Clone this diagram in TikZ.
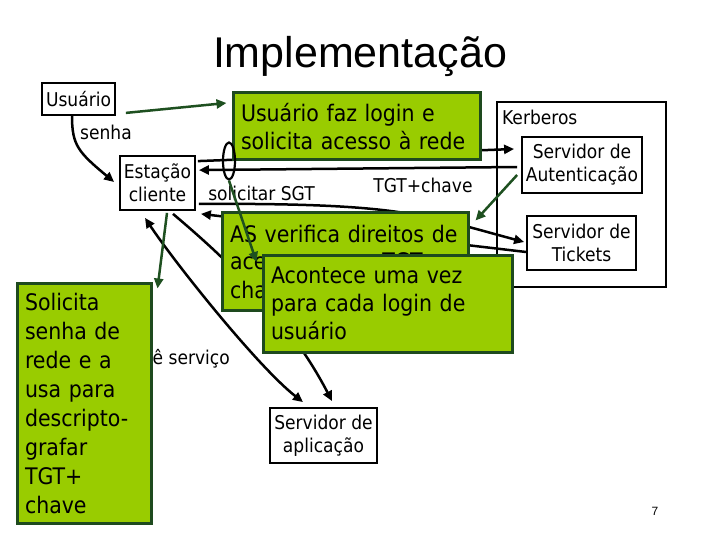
\documentclass[tikz,border=0pt]{standalone}
\usepackage{fontspec}
\setmainfont{DejaVu Sans Condensed}
\newfontfamily\titlefont{Liberation Sans}
\usetikzlibrary{arrows.meta,shapes.geometric,calc,backgrounds}
\definecolor{gfill}{HTML}{99CC00}
\definecolor{gborder}{HTML}{1E4A1E}
\definecolor{garrow}{HTML}{1E5020}
\tikzset{
 wbox/.style={draw=black,line width=1.8pt,fill=white,align=center,inner sep=0pt,font=\fontsize{19}{23}\selectfont},
 gbox/.style={draw=gborder,line width=3pt,fill=gfill,align=left,inner xsep=8pt,inner ysep=0pt,font=\fontsize{22.8}{28}\selectfont},
 lbl/.style={inner sep=0pt,font=\fontsize{19}{23}\selectfont},
 tip/.style={-{Triangle[length=10pt,width=9pt]}},
 blk/.style={draw=black,line width=2.5pt,tip},
 grn/.style={draw=garrow,line width=2.5pt,tip},
}
\begin{document}
\begin{tikzpicture}[x=1pt,y=-1pt]
\useasboundingbox (0,0) rectangle (720,540);
% title
\node[anchor=base,font=\titlefont\fontsize{43}{48}\selectfont,inner sep=0pt] (title) at (360,68) {Implementação};
% Kerberos frame
\node[draw=black,line width=1.8pt,minimum width=169,minimum height=185,inner sep=0pt] (kerb) at (581.5,194.5) {};
\node[lbl,anchor=base west] (kerbl) at (502,125) {Kerberos};
% white boxes
\node[wbox,minimum width=73,minimum height=32] (usr) at (78.5,99) {Usuário};
\node[wbox,minimum width=75,minimum height=54] (est) at (157.5,183) {Estação\\cliente};
\node[wbox,minimum width=120,minimum height=56] (sa) at (582,165) {Servidor de\\Autenticação};
\node[wbox,minimum width=109,minimum height=54] (st) at (581.5,243) {Servidor de\\Tickets};
\node[wbox,minimum width=107,minimum height=55] (app) at (323.5,435.5) {Servidor de\\aplicação};
% green boxes
\node[gbox,text width=231,minimum height=67] (g1) at (356.5,126.5) {\mbox{Usuário faz login e}\\\mbox{solicita acesso à rede}};
\node[gbox,text width=230,minimum height=97] (as) at (345,261.5) {\mbox{AS verifica direitos de}\\\mbox{acesso e gera TGT+}\\\mbox{chave}};
\node[gbox,text width=233,minimum height=97] (ac) at (387.5,303.5) {\mbox{Acontece uma vez}\\\mbox{para cada login de}\\\mbox{usuário}};
\node[gbox,text width=118,minimum height=240,font=\fontsize{22.8}{29}\selectfont] (sol) at (84,403) {Solicita\\senha de\\rede e a\\usa para\\descripto-\\grafar\\TGT+\\chave};
% ellipse
\node[ellipse,draw=black,line width=2.2pt,minimum width=12,minimum height=37,inner sep=0pt] (ell) at (229,161) {};
% labels
\node[lbl,anchor=base] (senha) at (106,140) {senha};
\node[lbl,anchor=base] (sgt) at (261.5,201) {solicitar SGT};
\node[lbl,anchor=base] (tgt) at (423,193) {TGT+chave};
\node[anchor=base,font=\titlefont\fontsize{12}{14}\selectfont,inner sep=0pt] (pg) at (655,515) {7};
% hidden connectors
\begin{scope}[on background layer]
\draw[blk] ($(est.north east)+(2,6)$) -- ($(sa.west)+(-7,-16)$);
\draw[blk] ($(est.south east)+(3,-7)$) .. controls (400,203) and (420,214) .. ($(st.west)+(-2,-1)$);
\draw[blk] ($(st.west)+(0,9)$) -- ($(est.south east)+(5,3)$);
\draw[blk] ($(est.south)+(15.5,3)$) .. controls (230,262) and (290,320) .. ($(app.north)+(8.5,-6)$);
\node[lbl,anchor=base east] (prov) at (230,364) {provê serviço};
\end{scope}
% visible connectors
\draw[blk] ($(usr.south)+(-6.5,0)$) .. controls (72,145) and (78,152) .. ($(est.west)+(-5,-1)$);
\draw[blk] ($(sa.west)+(-4,2)$) -- ($(est.north east)+(3,15)$);
\draw[blk,{Triangle[length=10pt,width=9pt]}-{Triangle[length=10pt,width=9pt]}] ($(est.south)+(-12.5,7)$) .. controls (175,263) and (258,367) .. ($(app.north)+(-20.5,-5)$);
\draw[grn] ($(usr.south east)+(10,-3)$) -- ($(g1.west)+(-5,-23.5)$);
\draw[grn] ($(est.south)+(9.5,2)$) -- ($(sol.north east)+(5,7)$);
\draw[grn] (ell.south) -- ($(as.west)+(36,0.5)$);
\draw[grn] ($(sa.west)+(-4,10)$) -- ($(as.north east)+(6,9)$);
\end{tikzpicture}
\end{document}
